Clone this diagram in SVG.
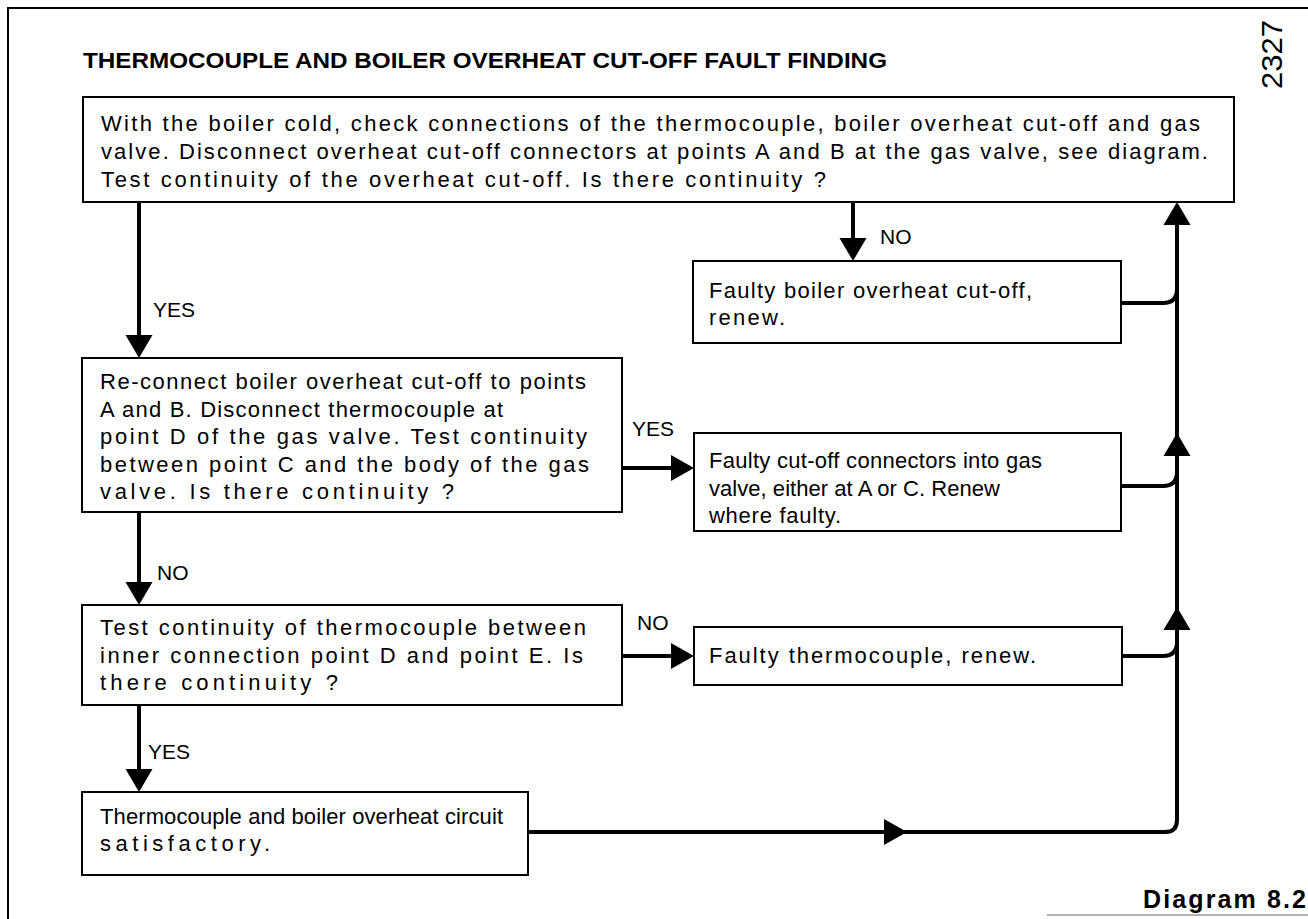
<svg xmlns="http://www.w3.org/2000/svg" width="1308" height="919" viewBox="0 0 1308 919">
<style>
.box{fill:#fff;stroke:#000;stroke-width:2}
.t{font-family:"Liberation Sans",Arial,sans-serif;font-size:22px;fill:#000}
.lbl{font-family:"Liberation Sans",Arial,sans-serif;font-size:21px;fill:#000}
.ttl{font-family:"Liberation Sans",Arial,sans-serif;font-size:22px;font-weight:bold;fill:#000}
.c{fill:none;stroke:#000;stroke-width:4}
.ah{fill:#000;stroke:none}
</style>
<defs>
<polygon id="down" points="-13.5,-23 13.5,-23 0,0"/>
<polygon id="up" points="-13.5,23 13.5,23 0,0"/>
<polygon id="right" points="-23,-13 -23,13 0,0"/>
</defs>
<rect x="0" y="0" width="1308" height="919" fill="#fff"/>
<path d="M8,919 V8 H1308" fill="none" stroke="#000" stroke-width="2"/>
<line x1="1047" y1="915" x2="1308" y2="915" stroke="#999" stroke-width="1.5"/>
<text class="ttl" x="83" y="68" textLength="804" lengthAdjust="spacingAndGlyphs">THERMOCOUPLE AND BOILER OVERHEAT CUT-OFF FAULT FINDING</text>
<text x="1282" y="89" transform="rotate(-90 1282 89)" font-family="Liberation Sans,Arial,sans-serif" font-size="30" textLength="69" lengthAdjust="spacingAndGlyphs">2327</text>
<text x="1306" y="908" text-anchor="end" font-family="Liberation Sans,Arial,sans-serif" font-size="25" font-weight="bold" textLength="163" lengthAdjust="spacing">Diagram  8.2</text>

<g id="connectors">
<line class="c" x1="853" y1="202" x2="853" y2="240"/>
<use href="#down" class="ah" x="853" y="261"/>
<line class="c" x1="139" y1="202" x2="139" y2="338"/>
<use href="#down" class="ah" x="139" y="358"/>
<line class="c" x1="622" y1="468" x2="675" y2="468"/>
<use href="#right" class="ah" x="694" y="468"/>
<line class="c" x1="139" y1="512" x2="139" y2="585"/>
<use href="#down" class="ah" x="139" y="605"/>
<line class="c" x1="622" y1="656" x2="675" y2="656"/>
<use href="#right" class="ah" x="694" y="656"/>
<line class="c" x1="139" y1="705" x2="139" y2="772"/>
<use href="#down" class="ah" x="139" y="792"/>
<path class="c" d="M528,832 H1165 Q1177,832 1177,820 V222"/>
<use href="#right" class="ah" x="907" y="832"/>
<path class="c" d="M1121,303 H1163 Q1177,303 1177,289"/>
<path class="c" d="M1121,486 H1163 Q1177,486 1177,472"/>
<path class="c" d="M1122,656 H1163 Q1177,656 1177,642"/>
<use href="#up" class="ah" x="1177" y="202"/>
<use href="#up" class="ah" x="1177" y="433"/>
<use href="#up" class="ah" x="1177" y="607"/>
<text class="lbl" x="880" y="244">NO</text>
<text class="lbl" x="153" y="317">YES</text>
<text class="lbl" x="632" y="436">YES</text>
<text class="lbl" x="157" y="580">NO</text>
<text class="lbl" x="637" y="630">NO</text>
<text class="lbl" x="148" y="759">YES</text>
</g>

<g id="n1">
<rect class="box" x="83" y="97" width="1151" height="105"/>
<text class="t" x="101" y="131" textLength="1099" lengthAdjust="spacing">With the boiler cold, check connections of the thermocouple, boiler overheat cut-off and gas</text>
<text class="t" x="101" y="159" textLength="1107" lengthAdjust="spacing">valve.  Disconnect overheat cut-off connectors at points A and B at the gas valve, see diagram.</text>
<text class="t" x="101" y="187" textLength="725" lengthAdjust="spacing">Test continuity of the overheat cut-off. Is there continuity ?</text>
</g>

<g id="n2">
<rect class="box" x="693" y="261" width="428" height="82"/>
<text class="t" x="709" y="298" textLength="323" lengthAdjust="spacing">Faulty boiler overheat cut-off,</text>
<text class="t" x="709" y="325" textLength="76" lengthAdjust="spacing">renew.</text>
</g>

<g id="n3">
<rect class="box" x="82" y="358" width="540" height="154"/>
<text class="t" x="100" y="389" textLength="486" lengthAdjust="spacing">Re-connect boiler overheat cut-off to points</text>
<text class="t" x="100" y="417" textLength="403" lengthAdjust="spacing">A and B. Disconnect thermocouple at</text>
<text class="t" x="100" y="444" textLength="487" lengthAdjust="spacing">point D of the gas valve. Test continuity</text>
<text class="t" x="100" y="472" textLength="489" lengthAdjust="spacing">between point C and the body of the gas</text>
<text class="t" x="100" y="499" textLength="354" lengthAdjust="spacing">valve. Is there continuity ?</text>
</g>

<g id="n4">
<rect class="box" x="694" y="433" width="427" height="98"/>
<text class="t" x="709" y="468" textLength="333" lengthAdjust="spacing">Faulty cut-off connectors into gas</text>
<text class="t" x="709" y="496" textLength="291" lengthAdjust="spacing">valve, either at A or C. Renew</text>
<text class="t" x="709" y="523" textLength="132" lengthAdjust="spacing">where faulty.</text>
</g>

<g id="n5">
<rect class="box" x="82" y="605" width="540" height="100"/>
<text class="t" x="100" y="635" textLength="486" lengthAdjust="spacing">Test continuity of thermocouple between</text>
<text class="t" x="100" y="663" textLength="483" lengthAdjust="spacing">inner connection point D and point E. Is</text>
<text class="t" x="100" y="690" textLength="238" lengthAdjust="spacing">there continuity ?</text>
</g>

<g id="n6">
<rect class="box" x="694" y="627" width="428" height="58"/>
<text class="t" x="709" y="663" textLength="327" lengthAdjust="spacing">Faulty thermocouple, renew.</text>
</g>

<g id="n7">
<rect class="box" x="82" y="792" width="446" height="83"/>
<text class="t" x="100" y="824" textLength="403" lengthAdjust="spacing">Thermocouple and boiler overheat circuit</text>
<text class="t" x="100" y="851" textLength="170" lengthAdjust="spacing">satisfactory.</text>
</g>
</svg>
